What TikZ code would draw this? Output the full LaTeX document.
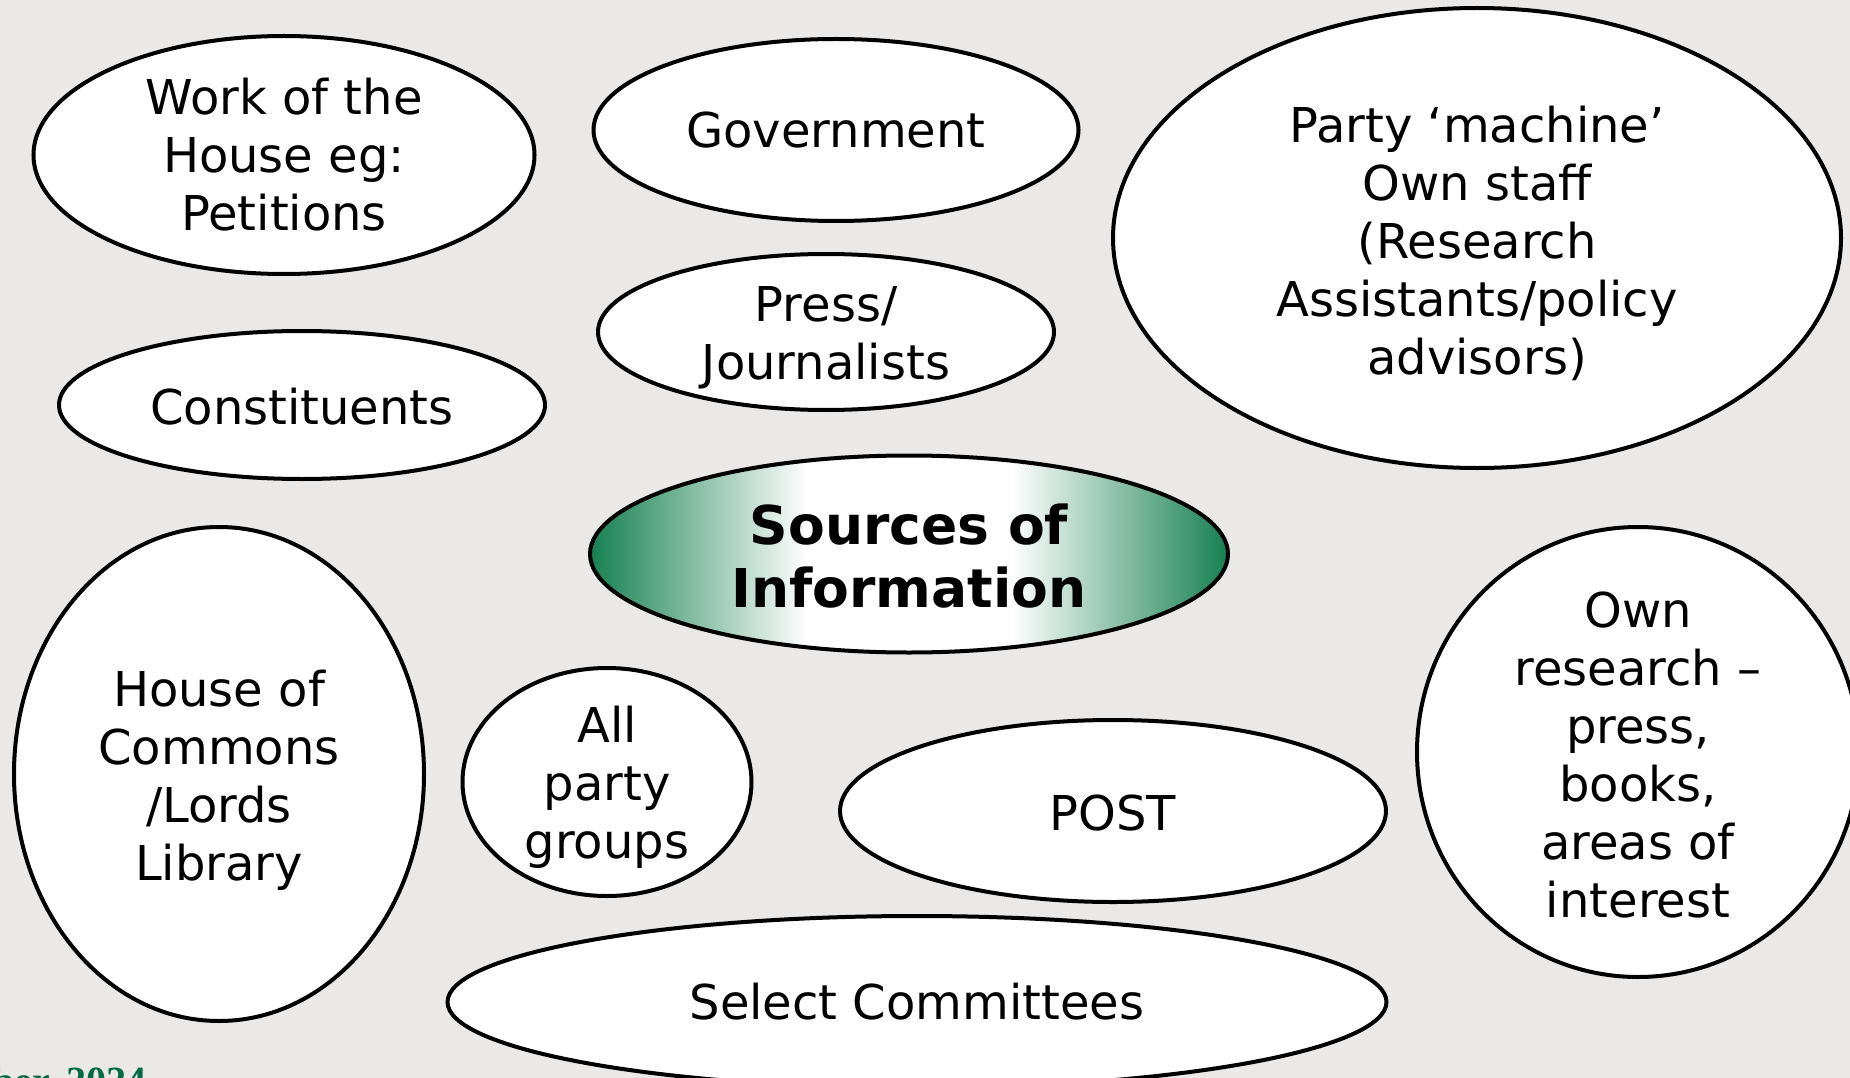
\documentclass[tikz,border=0pt]{standalone}
\usepackage{fontspec}
\setmainfont{DejaVu Sans}
\newfontfamily\datefont{Liberation Serif}
\usetikzlibrary{shapes.geometric}
\definecolor{bg}{RGB}{234,233,231}
\definecolor{sgreen}{RGB}{22,128,82}
\definecolor{dgreen}{RGB}{0,105,70}
\pgfdeclarehorizontalshading{srcshade}{100bp}{color(0bp)=(sgreen); color(25bp)=(sgreen); color(42bp)=(white); color(58bp)=(white); color(75bp)=(sgreen); color(100bp)=(sgreen)}
\tikzset{
  bubble/.style={ellipse, draw=black, line width=4pt, fill=white, inner sep=0pt, outer sep=0pt},
  centrebubble/.style={ellipse, draw=black, line width=4pt, shading=srcshade, inner sep=0pt, outer sep=0pt},
  txt/.style={align=center, inner sep=0pt, font=\fontsize{48}{58}\selectfont},
  bigtxt/.style={align=center, inner sep=0pt, font=\fontsize{53.5}{62.5}\selectfont\bfseries},
}
\begin{document}
\begin{tikzpicture}[x=1pt,y=-1pt]
\useasboundingbox (0,0) rectangle (1850,1078);
\fill[bg] (0,0) rectangle (1850,1078);
\clip (0,0) rectangle (1850,1078);

\node[bubble, minimum width=501pt, minimum height=238pt] (work) at (284,155) {};
\node[txt] (worktxt) at (work.center) {Work of the\\House eg:\\Petitions};

\node[bubble, minimum width=485pt, minimum height=182pt] (gov) at (836,130) {};
\node[txt] (govtxt) at (gov.center) {Government};

\node[bubble, minimum width=728pt, minimum height=460pt] (party) at (1477,238) {};
\node[txt, yshift=-5pt] (partytxt) at (party.center) {Party ‘machine’\\Own staff\\(Research\\Assistants/policy\\advisors)};

\node[bubble, minimum width=456pt, minimum height=156pt] (press) at (826,332) {};
\node[txt, yshift=-6pt] (presstxt) at (press.center) {Press/\\Journalists};

\node[bubble, minimum width=486pt, minimum height=148pt] (const) at (302,405) {};
\node[txt, yshift=-2pt] (consttxt) at (const.center) {Constituents};

\node[centrebubble, minimum width=638pt, minimum height=197pt] (src) at (909,554) {};
\node[bigtxt, yshift=-2pt] (srctxt) at (src.center) {Sources of\\Information};

\node[bubble, minimum width=410pt, minimum height=494pt] (hoc) at (219,774) {};
\node[txt, yshift=-6pt] (hoctxt) at (hoc.center) {House of\\Commons\\/Lords\\Library};

\node[bubble, minimum width=289pt, minimum height=228pt] (apg) at (607,782) {};
\node[txt, yshift=-5pt] (apgtxt) at (apg.center) {All\\party\\groups};

\node[bubble, minimum width=546pt, minimum height=182pt] (post) at (1113,811) {};
\node[txt, yshift=-2pt] (posttxt) at (post.center) {POST};

\node[bubble, minimum width=442pt, minimum height=450pt] (own) at (1638,752) {};
\node[txt, yshift=-3pt] (owntxt) at (own.center) {Own\\research –\\press,\\books,\\areas of\\interest};

\node[bubble, minimum width=939pt, minimum height=172pt] (sel) at (917,1002) {};
\node[txt] (seltxt) at (sel.center) {Select Committees};

\node[anchor=base east, inner sep=0pt, text=dgreen, font=\datefont\fontsize{40}{45}\selectfont\bfseries] (date) at (147,1094) {ber, 2024};
\end{tikzpicture}
\end{document}
